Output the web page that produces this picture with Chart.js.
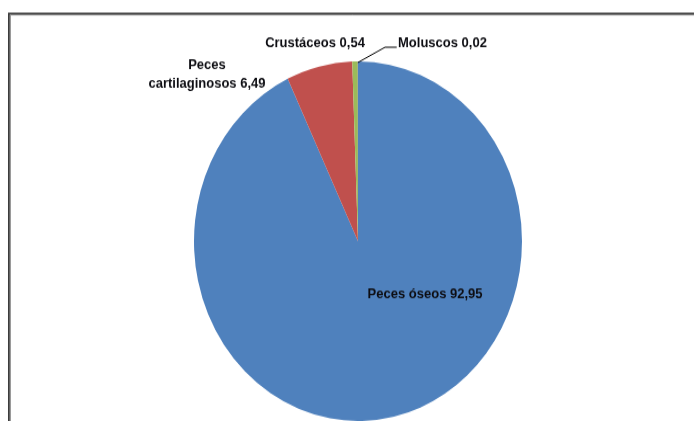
<!DOCTYPE html>
<html><head><meta charset="utf-8">
<script src="https://cdn.jsdelivr.net/npm/chart.js@4.4.1/dist/chart.umd.min.js"></script>
<style>html,body{margin:0;padding:0;background:#fff;overflow:hidden}
#c{display:block}</style>
</head><body>
<canvas id="c" width="694" height="384" style="width:694px;height:421px"></canvas>
<script>
const categories = ['Peces óseos', 'Peces cartilaginosos', 'Crustáceos', 'Moluscos'];
const values = [92.95, 6.49, 0.54, 0.02];
const valueLabels = ['92,95', '6,49', '0,54', '0,02'];
const colors = ['#4F81BD', '#C0504D', '#9BBB59', '#8064A2'];

// label placement, as fractions of the pie radius from its centre
const labelPlacement = [
  {fx: 0.409, fy: 0.294, align: 'center'},
  {fx: -0.921, fy: -0.927, align: 'center', split: true},
  {fx: -0.262, fy: -1.102, align: 'center'},
  {fx: 0.244, fy: -1.102, align: 'left', leader: {bx: 0.165, by: -1.079, ex: 0.236}}
];

const FONT = 'bold 13px "Liberation Sans", Arial, sans-serif';
const CONDENSE = 1.0;

function drawText(ctx, text, x, y, align) {
  const w = ctx.measureText(text).width * CONDENSE;
  let left = x;
  if (align === 'center') left = x - w / 2;
  ctx.textAlign = 'left';
  ctx.fillText(text, left, y, w);
}

const framePlugin = {
  id: 'frame',
  beforeDraw(chart) {
    const ctx = chart.ctx;
    ctx.save();
    ctx.strokeStyle = '#9a9a9a';
    ctx.lineWidth = 1;
    ctx.beginPath();
    ctx.moveTo(10.5, 800); ctx.lineTo(10.5, 13.6); ctx.lineTo(800, 13.6);
    ctx.stroke();
    ctx.strokeStyle = '#3c3c3c';
    ctx.lineWidth = 1.8;
    ctx.beginPath();
    ctx.moveTo(8.9, 800); ctx.lineTo(8.9, 12.3); ctx.lineTo(800, 12.3);
    ctx.stroke();
    ctx.restore();
  }
};

const labelPlugin = {
  id: 'pieLabels',
  afterDatasetsDraw(chart) {
    const ctx = chart.ctx;
    const arc = chart.getDatasetMeta(0).data[0];
    const cx = arc.x, cy = arc.y, r = arc.outerRadius;
    ctx.save();
    ctx.font = FONT;
    ctx.fillStyle = '#0d0d12';
    ctx.textBaseline = 'middle';
    labelPlacement.forEach((p, i) => {
      const x = cx + p.fx * r, y = cy + p.fy * r;
      if (p.split) {
        const name = categories[i].split(' ');
        drawText(ctx, name[0], x, y - 8.7, p.align);
        drawText(ctx, name.slice(1).join(' ') + ' ' + valueLabels[i], x, y + 8.7, p.align);
      } else {
        drawText(ctx, categories[i] + ' ' + valueLabels[i], x, y, p.align);
      }
      if (p.leader) {
        const a = chart.getDatasetMeta(0).data[i];
        const mid = (a.startAngle + a.endAngle) / 2;
        ctx.strokeStyle = '#000';
        ctx.lineWidth = 1;
        ctx.beginPath();
        ctx.moveTo(cx + Math.cos(mid) * (r - 1), cy + Math.sin(mid) * (r - 1));
        ctx.lineTo(cx + p.leader.bx * r, cy + p.leader.by * r);
        ctx.lineTo(cx + p.leader.ex * r, cy + p.leader.by * r);
        ctx.stroke();
      }
    });
    ctx.restore();
  }
};

new Chart(document.getElementById('c'), {
  type: 'pie',
  data: {
    labels: categories,
    datasets: [{
      data: values,
      backgroundColor: colors,
      borderWidth: 0,
      hoverOffset: 0,
      offset: 0
    }]
  },
  options: {
    responsive: false,
    devicePixelRatio: 1,
    animation: false,
    layout: {padding: {left: 194, right: 172, top: 56, bottom: 0}},
    plugins: {legend: {display: false}, tooltip: {enabled: false}, title: {display: false}}
  },
  plugins: [framePlugin, labelPlugin]
});
</script>
</body></html>
